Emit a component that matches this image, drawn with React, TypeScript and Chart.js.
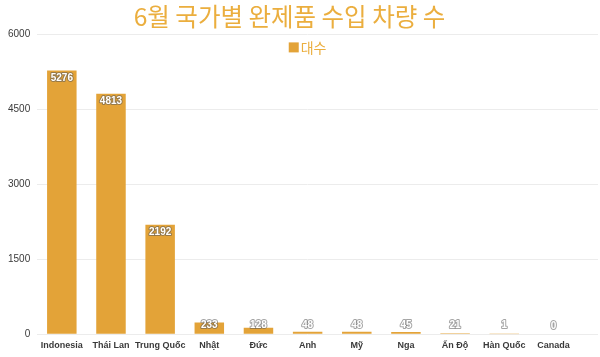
import React, { useEffect, useRef } from "react";
import { Chart, registerables } from "chart.js";

Chart.register(...registerables);

const TITLE = "6월 국가별 완제품 수입 차량 수";
const SERIES_LABEL = "대수";
const categories = ["Indonesia", "Thái Lan", "Trung Quốc", "Nhật", "Đức", "Anh", "Mỹ", "Nga", "Ấn Độ", "Hàn Quốc", "Canada"];
const values = [5276, 4813, 2192, 233, 128, 48, 48, 45, 21, 1, 0];
const yTicks = [0, 1500, 3000, 4500, 6000];

const BAR = "#E3A338";
const GOLD = "#EBAE3E";

const extraPlugin = {
  id: "extras",
  beforeDatasetsDraw(chart: any) {
    const { ctx, chartArea, width } = chart;
    const y = chart.scales.y;
    ctx.save();
    ctx.strokeStyle = "#ececec";
    ctx.lineWidth = 1;
    for (const t of yTicks) {
      const py = Math.round(y.getPixelForValue(t)) + 0.5;
      ctx.beginPath();
      ctx.moveTo(chartArea.right, py);
      ctx.lineTo(width - 2, py);
      ctx.stroke();
    }
    ctx.restore();
  },
  afterDraw(chart: any) {
    const { ctx, chartArea } = chart;
    ctx.save();
    // legend
    ctx.font = "14px 'Noto Sans CJK KR', sans-serif";
    const tw = ctx.measureText(SERIES_LABEL).width;
    const box = 10;
    const total = box + 2 + tw;
    const cx = (chartArea.left + chartArea.right) / 2;
    const ly = chartArea.top + 13;
    const x0 = cx - total / 2;
    ctx.fillStyle = BAR;
    ctx.fillRect(x0, ly - box / 2, box, box);
    ctx.fillStyle = GOLD;
    ctx.textBaseline = "middle";
    ctx.textAlign = "left";
    ctx.fillText(SERIES_LABEL, x0 + box + 2, ly);
    // data labels
    const meta = chart.getDatasetMeta(0);
    ctx.font = "bold 10px 'Liberation Sans', Arial, sans-serif";
    ctx.textAlign = "center";
    ctx.textBaseline = "middle";
    ctx.lineJoin = "round";
    meta.data.forEach((el: any, i: number) => {
      const v = values[i];
      const yy = Math.min(el.y + 8, el.base - 8);
      ctx.strokeStyle = "rgba(90,90,90,0.55)";
      ctx.lineWidth = 2;
      ctx.strokeText(String(v), el.x, yy);
      ctx.fillStyle = "#ffffff";
      ctx.fillText(String(v), el.x, yy);
    });
    ctx.restore();
  },
};

export default function App() {
  const ref = useRef<HTMLCanvasElement | null>(null);
  useEffect(() => {
    if (!ref.current) return;
    const chart = new Chart(ref.current, {
      type: "bar",
      data: {
        labels: categories,
        datasets: [
          {
            label: SERIES_LABEL,
            data: values,
            backgroundColor: BAR,
            borderWidth: 0,
            barPercentage: 0.6,
            categoryPercentage: 1,
          },
        ],
      },
      options: {
        animation: false,
        responsive: true,
        maintainAspectRatio: false,
        layout: { padding: { left: 1, right: 22, top: 0, bottom: 0 } },
        plugins: {
          legend: { display: false },
          tooltip: { enabled: false },
          title: {
            display: true,
            text: TITLE,
            color: GOLD,
            font: { family: "'Noto Sans CJK KR', sans-serif", size: 24.5, weight: "normal" },
            padding: { top: 2, bottom: 3 },
          },
        },
        scales: {
          x: {
            grid: { display: false, drawTicks: false },
            border: { display: false },
            ticks: {
              color: "#3a3a3a",
              font: { family: "'Liberation Sans', Arial, sans-serif", size: 9, weight: "bold" },
              padding: 6,
              maxRotation: 0,
              autoSkip: false,
            },
          },
          y: {
            min: 0,
            max: 6000,
            grid: { color: "#ececec", drawTicks: false },
            border: { display: false },
            ticks: {
              stepSize: 1500,
              color: "#3a3a3a",
              font: { family: "'Liberation Sans', Arial, sans-serif", size: 10 },
              padding: 7,
              callback: (v: any) => String(v),
            },
          },
        },
      },
      plugins: [extraPlugin],
    });
    return () => chart.destroy();
  }, []);
  return (
    <div style={{ position: "fixed", left: 0, top: 0, width: 600, height: 357, background: "#fff" }}>
      <canvas ref={ref} />
    </div>
  );
}
